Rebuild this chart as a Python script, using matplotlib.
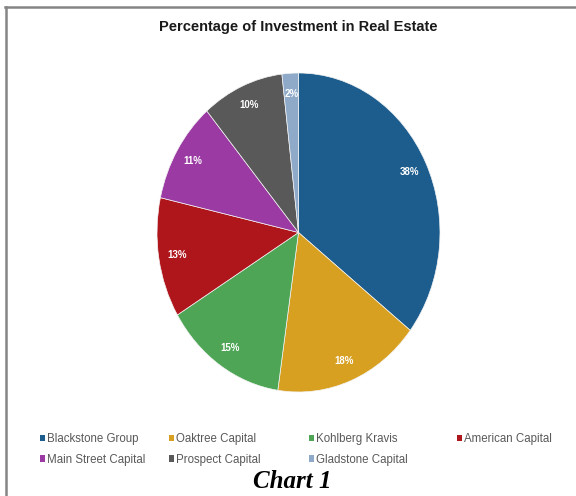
import matplotlib
matplotlib.use("Agg")
import matplotlib.pyplot as plt
from matplotlib.lines import Line2D
from matplotlib.patches import Patch

companies = ["Blackstone Group", "Oaktree Capital", "Kohlberg Kravis", "American Capital",
             "Main Street Capital", "Prospect Capital", "Gladstone Capital"]
values = [38, 18, 15, 13, 11, 10, 2]
labels = ["38%", "18%", "15%", "13%", "11%", "10%", "2%"]
colors = ["#1C5D8E", "#D8A020", "#4EA556", "#AE161C", "#9A3AA2", "#595959", "#8FA9C8"]
title = "Percentage of Investment in Real Estate"
caption = "Chart 1"

W, H = 576, 496
fig = plt.figure(figsize=(W / 100, H / 100), dpi=100)
fig.patch.set_facecolor("white")

# pie bounding box in pixels (elliptical in reference)
left, right, top, bottom = 157, 440, 73, 392
ax = fig.add_axes([left / W, 1 - bottom / H, (right - left) / W, (bottom - top) / H])
wedges, texts = ax.pie(values, colors=colors, startangle=90, counterclock=False,
                       labels=labels, labeldistance=0.87,
                       wedgeprops=dict(linewidth=0.5, edgecolor="#f4f4f4"),
                       textprops=dict(color="white", fontsize=7, fontweight="bold",
                                      family="Liberation Sans", ha="center", va="center"))
for t in texts:
    t.set_ha("center")
ax.set_aspect("auto")
ax.set_xlim(-1, 1)
ax.set_ylim(-1, 1)
ax.axis("off")

fig.text(298 / W, 1 - 27 / H, title, ha="center", va="center", fontsize=10.5,
         fontweight="bold", family="Liberation Sans", color="#1a1a1a")

# legend: 2 rows x 4 columns, one legend per column
col_x = [40, 169, 309, 457]
columns = [[0, 4], [1, 5], [2, 6], [3]]
for cx, idxs in zip(col_x, columns):
    handles = [Patch(facecolor=colors[i], edgecolor="none") for i in idxs]
    names = [companies[i] for i in idxs]
    leg = fig.legend(handles, names, ncol=1, loc="upper left",
                     bbox_to_anchor=(cx / W, 1 - 433 / H), frameon=False,
                     borderaxespad=0, borderpad=0,
                     handlelength=0.45, handleheight=0.45, handletextpad=0.2,
                     labelspacing=0.75,
                     prop=dict(family="Liberation Sans", size=8.3))
    for t in leg.get_texts():
        t.set_color("#595959")

fig.text(292 / W, 1 - 481 / H, caption, ha="center", va="center", fontsize=18,
         fontweight="bold", fontstyle="italic", family="Liberation Serif", color="black")

# frame lines (top and left)
fig.add_artist(Line2D([5 / W, 1.0], [1 - 7 / H, 1 - 7 / H], transform=fig.transFigure,
                      color="#858585", linewidth=1.8))
fig.add_artist(Line2D([6 / W, 6 / W], [1 - 7 / H, 0.0], transform=fig.transFigure,
                      color="#858585", linewidth=1.8))

fig.savefig("out.png", dpi=100)
